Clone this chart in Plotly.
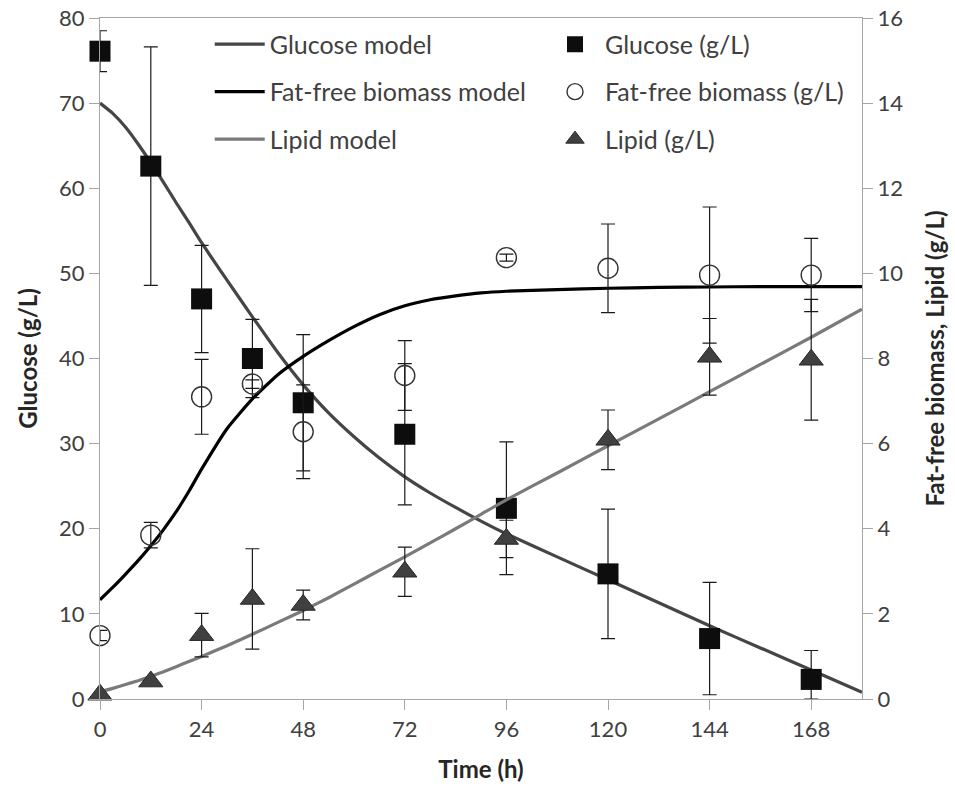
import plotly.graph_objects as go

# ---- measured data ----
time_pts = [0, 12, 24, 36, 48, 72, 96, 120, 144, 168]

glucose = [76.1, 62.6, 47.0, 40.0, 34.8, 31.1, 22.4, 14.7, 7.1, 2.3]
glucose_err = [2.4, 14.0, 6.3, 4.6, 8.0, 8.3, 7.8, 7.6, 6.6, 3.4]
glucose_err_minus = [2.4, 14.0, 6.3, 4.6, 8.0, 8.3, 7.8, 7.6, 6.6, 2.3]

biomass = [1.49, 3.85, 7.10, 7.40, 6.28, 7.60, 10.37, 10.12, 9.96, 9.96]
biomass_err = [0.12, 0.30, 0.88, 0.10, 1.10, 0.82, 0.08, 1.04, 1.60, 0.86]

lipid = [0.10, 0.41, 1.50, 2.35, 2.21, 2.99, 3.76, 6.09, 8.04, 7.97]
lipid_err = [0.0, 0.0, 0.51, 1.18, 0.35, 0.58, 0.44, 0.70, 0.90, 1.42]

# ---- model curves ----
model_t = [0, 3, 6, 9, 12, 15, 18, 21, 24, 30, 36, 42, 48, 54, 60, 66, 72, 78, 84, 90, 96,
           108, 120, 132, 144, 156, 168, 180]
glucose_model = [70.0, 68.8, 67.2, 65.2, 63.0, 60.7, 58.3, 56.0, 53.6, 49.2, 44.9, 40.7, 36.9,
                 33.6, 30.8, 28.3, 26.1, 24.2, 22.5, 20.9, 19.4,
                 16.7, 14.0, 11.3, 8.6, 6.0, 3.4, 0.8]
biomass_model = [2.33, 2.62, 2.93, 3.25, 3.60, 3.98, 4.40, 4.88, 5.40, 6.35, 7.05, 7.62, 8.05,
                 8.42, 8.75, 9.03, 9.24, 9.38, 9.47, 9.54, 9.58,
                 9.62, 9.65, 9.67, 9.68, 9.69, 9.69, 9.69]
lipid_model = [0.17, 0.25, 0.34, 0.43, 0.53, 0.64, 0.76, 0.88, 1.00, 1.25, 1.52, 1.80, 2.08,
               2.38, 2.70, 3.02, 3.34, 3.67, 4.00, 4.34, 4.68,
               5.31, 5.95, 6.58, 7.22, 7.86, 8.50, 9.16]

x_ticks = [0, 24, 48, 72, 96, 120, 144, 168]

FONT = "Lato"
TXT = "#404040"
TITLE = "#262626"
AXIS = "#a6a6a6"

fig = go.Figure()

# model lines (left column of legend)
fig.add_trace(go.Scatter(x=model_t, y=glucose_model, mode="lines", name="Glucose model",
                         line=dict(color="#454545", width=3.2, shape="spline", smoothing=0.5),
                         legend="legend", legendgroup="a1"))
fig.add_trace(go.Scatter(x=model_t, y=biomass_model, mode="lines", name="Fat-free biomass model",
                         line=dict(color="#000000", width=3.2, shape="spline", smoothing=0.5),
                         yaxis="y2", legend="legend", legendgroup="a2"))
fig.add_trace(go.Scatter(x=model_t, y=lipid_model, mode="lines", name="Lipid model",
                         line=dict(color="#7a7a7a", width=3.2, shape="spline", smoothing=0.5),
                         yaxis="y2", legend="legend", legendgroup="a3"))

err_style = dict(type="data", color="#1a1a1a", thickness=1.2, width=7)

# measured points (right column of legend)
fig.add_trace(go.Scatter(x=time_pts, y=glucose, mode="markers", name="Glucose (g/L)",
                         marker=dict(symbol="square", size=21, color="#0d0d0d"),
                         error_y=dict(array=glucose_err, arrayminus=glucose_err_minus,
                                      symmetric=False, **err_style),
                         cliponaxis=False, legend="legend2", legendgroup="b1"))
fig.add_trace(go.Scatter(x=time_pts, y=biomass, mode="markers", name="Fat-free biomass (g/L)",
                         marker=dict(symbol="circle-open", size=20, color="#333333",
                                     line=dict(width=1.4)),
                         error_y=dict(array=biomass_err, **err_style),
                         yaxis="y2", cliponaxis=False, legend="legend2", legendgroup="b2"))
fig.add_trace(go.Scatter(x=time_pts, y=lipid, mode="markers", name="Lipid (g/L)",
                         marker=dict(symbol="triangle-up", size=21, color="#404040",
                                     line=dict(color="#262626", width=1)),
                         error_y=dict(array=lipid_err, **err_style),
                         yaxis="y2", cliponaxis=False, legend="legend2", legendgroup="b3"))

axis_common = dict(showgrid=False, zeroline=False, showline=True, linecolor=AXIS, linewidth=1.3,
                   ticks="outside", ticklen=10, tickcolor=AXIS, tickwidth=1.3, automargin=False,
                   tickfont=dict(family=FONT, size=22, color=TXT))

legend_common = dict(font=dict(family=FONT, size=25, color=TXT), bgcolor="rgba(0,0,0,0)",
                     traceorder="grouped", tracegroupgap=12, itemwidth=50,
                     xanchor="left", yanchor="top")

fig.update_layout(
    width=955, height=791,
    margin=dict(l=100, r=93, t=18, b=92),
    paper_bgcolor="white", plot_bgcolor="white",
    xaxis=dict(range=[0, 180], tickvals=x_ticks, mirror=True,
               title=dict(text="<b>Time (h)</b>", font=dict(family=FONT, size=24, color=TITLE),
                          standoff=20),
               **axis_common),
    yaxis=dict(range=[0, 80], dtick=10,
               title=dict(text="<b>Glucose (g/L)</b>", font=dict(family=FONT, size=24, color=TITLE),
                          standoff=14),
               **axis_common),
    yaxis2=dict(range=[0, 16], dtick=2, overlaying="y", side="right",
                title=dict(text="<b>Fat-free biomass, Lipid (g/L)</b>",
                           font=dict(family=FONT, size=24, color=TITLE), standoff=24),
                **axis_common),
    legend=dict(x=0.144, y=0.995, **legend_common),
    legend2=dict(x=0.584, y=0.995, **legend_common),
)

fig.write_html("out.html")
